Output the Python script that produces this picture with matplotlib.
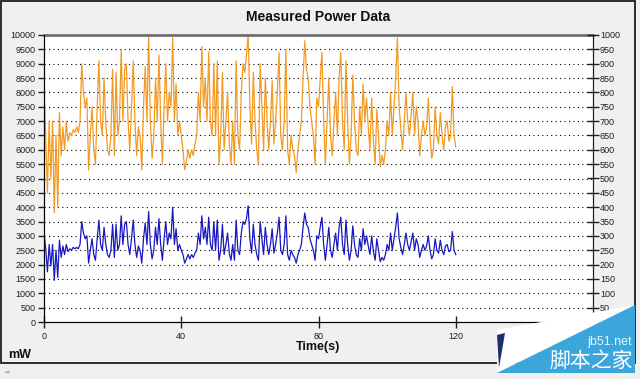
import matplotlib.pyplot as plt
from matplotlib.patches import Polygon, Rectangle
import numpy as np

plt.rcParams['font.family'] = ['Liberation Sans', 'DejaVu Sans']

# sampled every 0.5 s
time_s = np.arange(0, 120.5, 0.5)

total_mw = [
    8300, 6500, 4500, 7000, 5000, 7000, 3800, 6500, 4000, 7300, 5800, 6800, 6000, 7000, 6300, 6600, 6500, 6700, 6600, 6800,
    6600, 7000, 9000, 8000, 7500, 7800, 5300, 6500, 7500, 6000, 5500, 7500, 9100, 7000, 6500, 8500, 7000, 6000, 5800, 6500,
    8800, 5800, 8700, 6500, 7000, 9500, 7000, 8800, 9000, 7000, 6000, 7500, 9100, 7000, 5800, 6800, 6500, 5300, 7500, 8900,
    7000, 10000, 7000, 5700, 6500, 8500, 7000, 9300, 7000, 5500, 7500, 9000, 7000, 8000, 7500, 9900, 7000, 8300, 6500, 7000,
    6500, 6000, 5300, 5600, 6000, 5700, 6000, 5800, 6200, 6500, 8000, 7000, 9600, 7500, 8500, 7000, 9400, 7000, 6500, 9000,
    6500, 9100, 5500, 6500, 8700, 6000, 7000, 8000, 6200, 5500, 7000, 5500, 9100, 6500, 6000, 8000, 9000, 8700, 9300, 10000,
    7500, 6200, 8700, 7000, 6000, 5500, 9000, 7500, 6000, 8500, 7000, 6000, 7000, 8400, 6200, 7000, 8000, 9400, 6500, 6000,
    7000, 9500, 6000, 5500, 6500, 6000, 5800, 5200, 6000, 6500, 7000, 8500, 9800, 8800, 8500, 7500, 7000, 6500, 5500, 7800,
    7500, 8500, 9400, 7000, 5500, 7000, 8500, 6500, 5800, 7000, 8000, 6500, 8500, 9400, 7000, 6000, 9100, 7000, 5500, 6500,
    8600, 7000, 6000, 5800, 7500, 6500, 8300, 7000, 7800, 6800, 6000, 7800, 6300, 5500, 7400, 6500, 5400, 5800, 5500, 6000,
    7000, 6500, 8000, 6500, 7500, 8500, 9900, 7500, 6700, 6000, 7000, 8000, 7000, 6500, 7200, 8000, 6500, 7500, 7000, 5800,
    6500, 7000, 6500, 6800, 7800, 6500, 5700, 6000, 7500, 6500, 6200, 7300, 6500, 6000, 6800, 7000, 6300, 6500, 8200, 6500,
    6100,
]

core_mw = [
    3100, 2550, 1750, 2700, 1950, 2700, 1450, 2500, 1550, 2850, 2250, 2650, 2350, 2700, 2450, 2550, 2500, 2600, 2550, 2600,
    2550, 2700, 3500, 3100, 2900, 3000, 2050, 2500, 2900, 2350, 2150, 2900, 3550, 2700, 2500, 3300, 2700, 2350, 2250, 2500,
    3400, 2250, 3400, 2500, 2700, 3700, 2700, 3400, 3500, 2700, 2350, 2900, 3550, 2700, 2250, 2650, 2500, 2050, 2900, 3450,
    2700, 3850, 2700, 2200, 2500, 3300, 2700, 3600, 2700, 2150, 2900, 3500, 2700, 3100, 2900, 4000, 2700, 3250, 2500, 2700,
    2500, 2350, 2050, 2200, 2350, 2200, 2350, 2250, 2400, 2500, 3100, 2700, 3700, 2900, 3300, 2700, 3650, 2700, 2500, 3500,
    2500, 3550, 2150, 2500, 3400, 2350, 2700, 3100, 2400, 2150, 2700, 2150, 3550, 2500, 2350, 3100, 3500, 3400, 3600, 4050,
    2900, 2400, 3400, 2700, 2350, 2150, 3500, 2900, 2350, 3300, 2700, 2350, 2700, 3250, 2400, 2700, 3100, 3650, 2500, 2350,
    2700, 3700, 2350, 2150, 2500, 2350, 2250, 2050, 2350, 2500, 2700, 3300, 3800, 3400, 3300, 2900, 2700, 2500, 2150, 3000,
    2900, 3300, 3650, 2700, 2150, 2700, 3300, 2500, 2250, 2700, 3100, 2500, 3300, 3650, 2700, 2350, 3550, 2700, 2150, 2500,
    3350, 2700, 2350, 2250, 2900, 2500, 3250, 2700, 3000, 2650, 2350, 3000, 2450, 2150, 2900, 2500, 2100, 2250, 2150, 2350,
    2700, 2500, 3100, 2500, 2900, 3300, 3800, 2900, 2600, 2350, 2700, 3100, 2700, 2500, 2800, 3100, 2500, 2900, 2700, 2250,
    2500, 2700, 2500, 2650, 3000, 2500, 2200, 2350, 2900, 2500, 2400, 2850, 2500, 2350, 2650, 2700, 2450, 2500, 3150, 2500,
    2350,
]

right_ticks = np.arange(0, 1001, 50)
right_labels = ['' if v == 0 else str(v) for v in right_ticks]  # 0 is under the logo

W, H = 640, 379


def fx(px):
    return px / W


def fy(py):
    return 1 - py / H


fig = plt.figure(figsize=(6.4, 3.79), dpi=100, facecolor='#f0f0f0')

# window frame
fig.patches.append(Rectangle((fx(1), fy(363)), fx(634), 362 / H, transform=fig.transFigure,
                             fill=False, edgecolor='#1e1e1e', linewidth=1.3))
fig.text(fx(7), fy(372), '\u25c4', fontsize=5, color='#b0b0b0', ha='center', va='center',
         family=['DejaVu Sans'])

ax = fig.add_axes([fx(44), fy(322), fx(593 - 44), (322 - 35) / H])
ax.set_facecolor('white')

ax.plot(time_s, total_mw, color='#f39a22', linewidth=0.9)
ax.plot(time_s, core_mw, color='#1818c0', linewidth=0.9)

ax.set_xlim(0, 160)
ax.set_ylim(0, 10000)
ax.set_xticks([0, 40, 80, 120])
ax.set_yticks(np.arange(0, 10001, 500))
ax.grid(axis='y', color='black', linestyle=(0, (1, 3)), linewidth=0.8)
ax.tick_params(axis='y', direction='out', length=4, width=1, labelsize=6.5, pad=2, colors='#1e1e1e')
ax.tick_params(axis='x', direction='inout', length=8, width=1, labelsize=6.5, pad=3, colors='#1e1e1e')
ax.spines['top'].set_color('#707070')
ax.spines['top'].set_linewidth(2)
for side in ['left', 'right', 'bottom']:
    ax.spines[side].set_color('#1e1e1e')

ax2 = ax.twinx()
ax2.set_ylim(0, 1000)
ax2.set_yticks(right_ticks)
ax2.set_yticklabels(right_labels)
ax2.tick_params(axis='y', direction='inout', length=8, width=1, labelsize=6.5, pad=1, colors='#1e1e1e')
ax2.spines['right'].set_color('#1e1e1e')
ax2.spines['top'].set_visible(False)

fig.text(fx(318), fy(17), 'Measured Power Data', fontsize=10, fontweight='bold',
         ha='center', va='center', color='#111111')
fig.text(fx(318), fy(347), 'Time(s)', fontsize=9, fontweight='bold',
         ha='center', va='center', color='#111111')
fig.text(fx(8), fy(355), 'mW', fontsize=9, fontweight='bold',
         ha='left', va='center', color='#111111')

# watermark in the corner
fig.patches.append(Polygon([(fx(497), fy(330)), (fx(635), fy(305)), (fx(497), fy(373))],
                           closed=True, transform=fig.transFigure, facecolor='white',
                           edgecolor='none', zorder=5))
fig.patches.append(Polygon([(fx(497), fy(373)), (fx(635), fy(305)), (fx(635), fy(373))],
                           closed=True, transform=fig.transFigure, facecolor='#3aa6dc',
                           edgecolor='none', zorder=6))
fig.patches.append(Polygon([(fx(497), fy(335)), (fx(505), fy(333)), (fx(499), fy(368))],
                           closed=True, transform=fig.transFigure, facecolor='#1c2f6b',
                           edgecolor='none', zorder=6))
fig.text(fx(632), fy(342), 'jb51.net', fontsize=9, color='#e8f4fb', ha='right', va='center',
         zorder=7)
fig.text(fx(633), fy(361), '脚本之家', fontsize=15, color='white', ha='right', va='center',
         family=['Noto Sans CJK SC', 'DejaVu Sans'], zorder=7)

fig.savefig('out.png', dpi=100, facecolor=fig.get_facecolor())
